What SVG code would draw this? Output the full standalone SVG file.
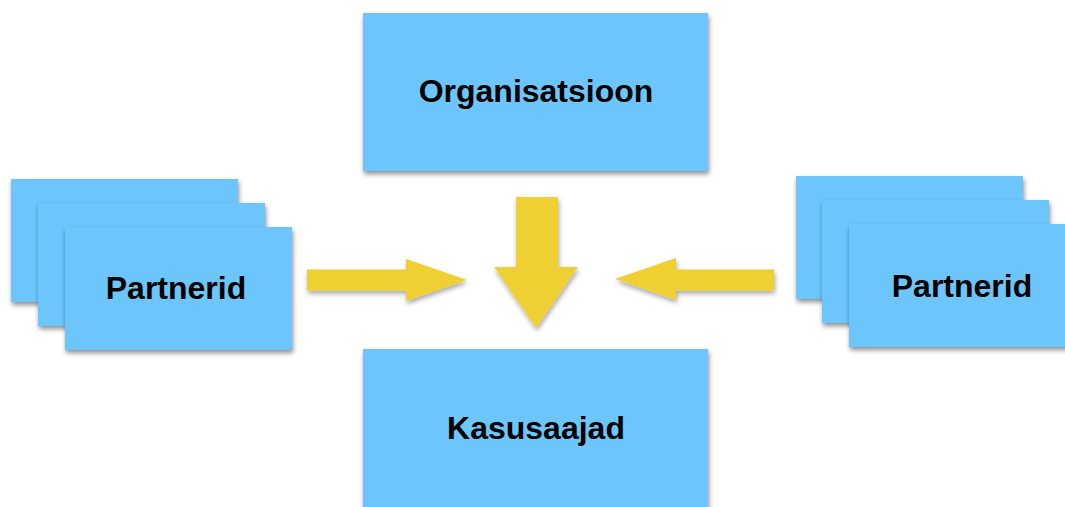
<svg xmlns="http://www.w3.org/2000/svg" width="1065" height="507" viewBox="0 0 1065 507">
  <style>
    .box { fill: #6CC6FB; filter: url(#shadow); }
    .arrow { fill: #EFD031; filter: url(#ashadow); }
    .label { font-family: "Liberation Sans", Arial, sans-serif; font-weight: bold; font-size: 32px; fill: #000; text-anchor: middle; }
  </style>
  <defs>
    <filter id="shadow" x="-10%" y="-10%" width="125%" height="130%">
      <feDropShadow dx="1" dy="3" stdDeviation="2.5" flood-color="#000" flood-opacity="0.45"/>
    </filter>
    <filter id="ashadow" x="-10%" y="-10%" width="125%" height="130%">
      <feDropShadow dx="1" dy="3" stdDeviation="2.5" flood-color="#000" flood-opacity="0.35"/>
    </filter>
  </defs>
  <rect width="1065" height="507" fill="#ffffff"/>

  <g id="organisatsioon">
    <rect class="box" x="363" y="13" width="345" height="158"/>
    <text class="label" x="536" y="102">Organisatsioon</text>
  </g>

  <g id="kasusaajad">
    <rect class="box" x="363" y="349" width="345" height="170"/>
    <text class="label" x="536" y="439">Kasusaajad</text>
  </g>

  <g id="partnerid-left">
    <rect class="box" x="11" y="179" width="227" height="123"/>
    <rect class="box" x="38" y="203" width="227" height="123"/>
    <rect class="box" x="65" y="227" width="227" height="123"/>
    <text class="label" x="176" y="299">Partnerid</text>
  </g>

  <g id="partnerid-right">
    <rect class="box" x="796" y="176" width="227" height="123"/>
    <rect class="box" x="822" y="200" width="227" height="123"/>
    <rect class="box" x="849" y="224" width="227" height="123"/>
    <text class="label" x="962" y="297">Partnerid</text>
  </g>

  <g id="connectors">
    <polygon class="arrow" points="307,269.5 406,269.5 406,259 467,280 406,301 406,290.5 307,290.5"/>
    <polygon class="arrow" points="516,197 558,197 558,267 578,267 536,328 494,267 516,267"/>
    <polygon class="arrow" points="774,269.5 676,269.5 676,258 615,279 676,300 676,290.5 774,290.5"/>
  </g>
</svg>
